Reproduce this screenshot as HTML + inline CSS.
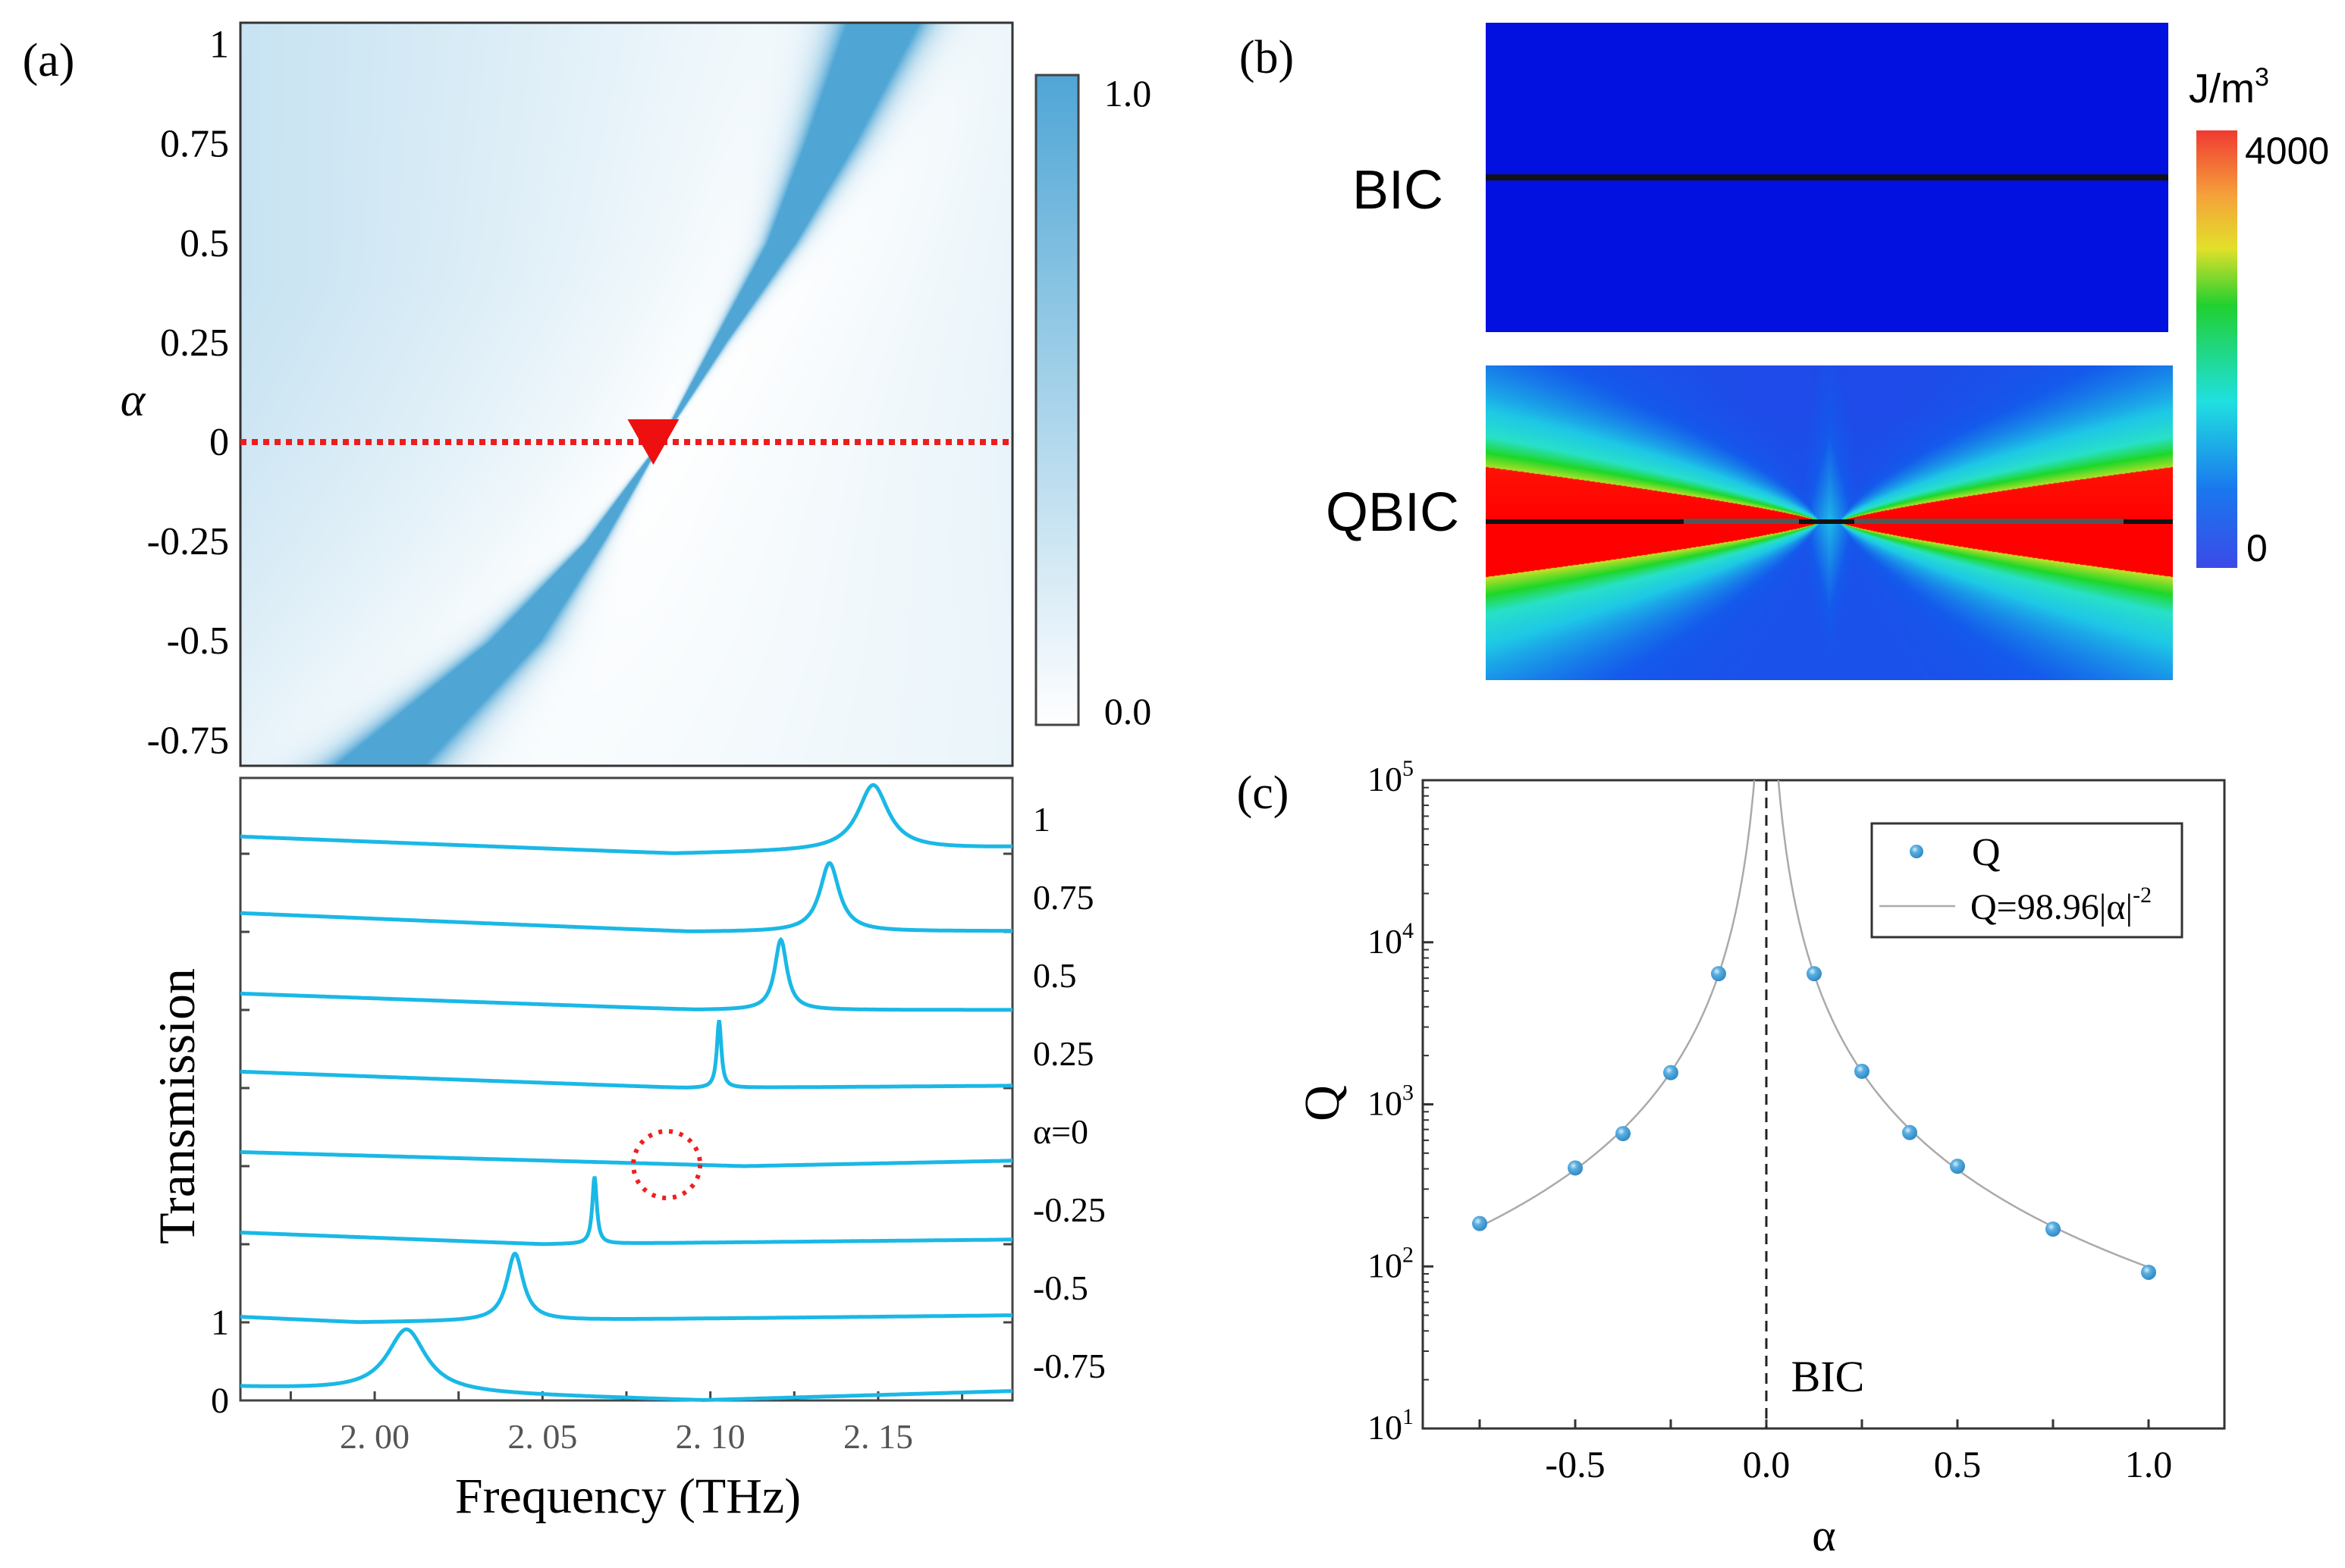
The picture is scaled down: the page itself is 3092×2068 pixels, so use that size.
<!DOCTYPE html>
<html><head><meta charset="utf-8">
<style>
html,body{margin:0;padding:0;background:#fff;}
#root{position:relative;width:3092px;height:2068px;overflow:hidden;background:#fff;}
canvas{position:absolute;}
svg{position:absolute;left:0;top:0;}
.serif{font-family:"Liberation Serif",serif;}
.sans{font-family:"Liberation Sans",sans-serif;}
</style></head>
<body>
<div id="root">
<canvas id="heat" width="1018" height="980" style="left:317px;top:30px;width:1018px;height:980px"></canvas>
<canvas id="bic" width="900" height="408" style="left:1959px;top:30px;width:900px;height:408px"></canvas>
<canvas id="qbic" width="906" height="415" style="left:1959px;top:482px;width:906px;height:415px"></canvas>
<svg id="svg" width="3092" height="2068" viewBox="0 0 3092 2068" xmlns="http://www.w3.org/2000/svg">
<defs>
<linearGradient id="cbA" x1="0" y1="0" x2="0" y2="1">
<stop offset="0" stop-color="#4fa6d5"/><stop offset="1" stop-color="#ffffff"/></linearGradient>
<linearGradient id="cbB" x1="0" y1="0" x2="0" y2="1">
<stop offset="0" stop-color="#f03a32"/><stop offset="0.15" stop-color="#f5a23a"/><stop offset="0.27" stop-color="#e2e02a"/><stop offset="0.4" stop-color="#20d030"/><stop offset="0.62" stop-color="#20e0e0"/><stop offset="0.82" stop-color="#1a78ee"/><stop offset="1" stop-color="#3a4ae8"/></linearGradient>
<radialGradient id="ball" cx="0.38" cy="0.35" r="0.7">
<stop offset="0" stop-color="#d8eefa"/><stop offset="0.35" stop-color="#5aaee0"/><stop offset="1" stop-color="#2a86c2"/></radialGradient>
<clipPath id="clipC"><rect x="1876" y="1029" width="1057" height="855"/></clipPath>
</defs>

<text class="serif" x="64" y="100" font-size="62" text-anchor="middle">(a)</text>
<text class="serif" x="1670" y="96" font-size="62" text-anchor="middle">(b)</text>
<text class="serif" x="1665" y="1066" font-size="62" text-anchor="middle">(c)</text>

<rect x="317" y="30" width="1018" height="980" fill="none" stroke="#333" stroke-width="3"/>
<g id="heatTicks"></g>
<text class="serif" x="175" y="548" font-size="62" font-style="italic" text-anchor="middle">α</text>
<line id="redLine" x1="317" x2="1337" stroke="#ee1c1c" stroke-width="8" stroke-dasharray="8,7"/>
<polygon id="redTri" fill="#ee1010"/>
<rect x="1366" y="99" width="56" height="857" fill="url(#cbA)" stroke="#444" stroke-width="3"/>
<text class="serif" x="1487" y="140" font-size="50" text-anchor="middle">1.0</text>
<text class="serif" x="1487" y="955" font-size="50" text-anchor="middle">0.0</text>

<rect x="317" y="1026" width="1018" height="821" fill="none" stroke="#444" stroke-width="3"/>
<g id="transTicks"></g>
<g id="transCurves"></g>
<circle id="redCircle" r="44" fill="none" stroke="#ee2020" stroke-width="6" stroke-dasharray="5,9"/>
<text class="serif" x="0" y="0" font-size="68" text-anchor="middle" transform="translate(256,1459) rotate(-90)">Transmission</text>
<text class="serif" x="828" y="1995" font-size="66" text-anchor="middle">Frequency (THz)</text>

<text class="sans" x="1843" y="275" font-size="72" text-anchor="middle">BIC</text>
<text class="sans" x="1836" y="700" font-size="72" text-anchor="middle">QBIC</text>
<line x1="1959" y1="234" x2="2859" y2="234" stroke="#111" stroke-width="8"/>
<line x1="1959" y1="688" x2="2865" y2="688" stroke="#111" stroke-width="6"/>
<rect x="2220" y="684" width="152" height="7" fill="#555"/>
<rect x="2445" y="684" width="355" height="7" fill="#555"/>
<rect x="2896" y="172" width="54" height="577" fill="url(#cbB)"/>
<text class="sans" x="2886" y="135" font-size="54">J/m<tspan font-size="34" dy="-22">3</tspan></text>
<text class="sans" x="2960" y="216" font-size="50">4000</text>
<text class="sans" x="2962" y="740" font-size="50">0</text>

<rect x="1876" y="1029" width="1057" height="855" fill="none" stroke="#333" stroke-width="3"/>
<g id="cTicks"></g>
<line id="bicLine" stroke="#222" stroke-width="3" stroke-dasharray="14,9"/>
<path id="fitCurve" fill="none" stroke="#aaa" stroke-width="2.5" clip-path="url(#clipC)"/>
<g id="qPoints"></g>
<text class="serif" x="2410" y="1835" font-size="58" text-anchor="middle">BIC</text>
<text class="serif" x="0" y="0" font-size="66" text-anchor="middle" transform="translate(1765,1455) rotate(-90)">Q</text>
<text class="serif" x="2405" y="2045" font-size="60" text-anchor="middle">α</text>
<g>
<rect x="2468" y="1086" width="409" height="150" fill="#fff" stroke="#333" stroke-width="3"/>
<circle cx="2527" cy="1123" r="9" fill="url(#ball)"/>
<text class="serif" x="2600" y="1141" font-size="52">Q</text>
<line x1="2478" y1="1195" x2="2578" y2="1195" stroke="#aaa" stroke-width="2.5"/>
<text class="serif" x="2598" y="1212" font-size="48">Q=98.96|α|<tspan font-size="30" dy="-22">-2</tspan></text>
</g>
</svg>
</div>
<script>
// ---------- data: panel (a) ----------
const alphaLevels = [-0.75, -0.5, -0.25, 0, 0.25, 0.5, 0.75, 1];
const alphaLabels = ["-0.75", "-0.5", "-0.25", "0", "0.25", "0.5", "0.75", "1"];
const rightLabels = ["-0.75", "-0.5", "-0.25", "α=0", "0.25", "0.5", "0.75", "1"];
const peakFreq = [2.0095, 2.0418, 2.0655, 2.085, 2.1026, 2.121, 2.1355, 2.1485];
const bandHW = [0.013, 0.008, 0.0028, 0.0002, 0.002, 0.0045, 0.008, 0.011];
const tLeft = [0.17, 0.07, 0.15, 0.18, 0.21, 0.21, 0.24, 0.22];
const tDipF = [2.098, 1.995, 2.05, 2.11, 2.093, 2.096, 2.094, 2.089];
const tRight = [0.12, 0.09, 0.06, 0.07, 0.03, 0.0, 0.01, 0.08];
const tPeak = [0.91, 0.88, 0.87, 0, 0.87, 0.9, 0.88, 0.88];
const lineHW = [0.007, 0.003, 0.0008, 0, 0.0008, 0.0022, 0.0035, 0.0055];
const freqTicks = [2.00, 2.05, 2.10, 2.15];
const freqTickLabels = ["2. 00", "2. 05", "2. 10", "2. 15"];
// ---------- data: panel (c) ----------
const qAlpha = [-0.75, -0.5, -0.375, -0.25, -0.125, 0.125, 0.25, 0.375, 0.5, 0.75, 1.0];
const qValues = [184, 405, 660, 1570, 6400, 6400, 1600, 670, 415, 170, 92];
const fitCoef = 98.96;
const cXTicks = [-0.5, 0, 0.5, 1.0];
const cXTickLabels = ["-0.5", "0.0", "0.5", "1.0"];
const cYExp = [1, 2, 3, 4, 5];

const NS = "http://www.w3.org/2000/svg";
function mk(tag, attrs, parent) {
  const e = document.createElementNS(NS, tag);
  for (const k in attrs) e.setAttribute(k, attrs[k]);
  parent.appendChild(e);
  return e;
}
const fx = f => 317 + (f - 1.96) / (2.19 - 1.96) * 1018;
const ay = a => 583 - a * 524.4;
const baseY = k => 1847 - 103 * k;
const TS = 103;

const ht = document.getElementById('heatTicks');
alphaLevels.forEach((a, i) => {
  const t = mk('text', {x: 302, y: ay(a) + 17, 'font-size': 52, 'text-anchor': 'end', 'class': 'serif'}, ht);
  t.textContent = alphaLabels[i];
  
  
});
const rl = document.getElementById('redLine');
rl.setAttribute('y1', ay(0)); rl.setAttribute('y2', ay(0));
const tri = document.getElementById('redTri');
const tx = fx(2.083);
tri.setAttribute('points', `${tx-34},${ay(0)-30} ${tx+34},${ay(0)-30} ${tx},${ay(0)+30}`);

function interp(xs, ys, x) {
  if (x <= xs[0]) return ys[0] + (ys[1]-ys[0])/(xs[1]-xs[0])*(x-xs[0]);
  for (let i = 0; i < xs.length - 1; i++) {
    if (x <= xs[i+1]) return ys[i] + (ys[i+1]-ys[i]) * (x - xs[i]) / (xs[i+1]-xs[i]);
  }
  const n = xs.length;
  return ys[n-1] + (ys[n-1]-ys[n-2])/(xs[n-1]-xs[n-2])*(x-xs[n-1]);
}
(function(){
  const cv = document.getElementById('heat'), ctx = cv.getContext('2d');
  const W = cv.width, H = cv.height, img = ctx.createImageData(W, H), d = img.data;
  for (let py = 0; py < H; py++) {
    const a = (583 - (py + 30)) / 524.4;
    const c = interp(alphaLevels, peakFreq, a);
    const hw = Math.max(0.0002, interp(alphaLevels, bandHW, a));
    for (let px = 0; px < W; px++) {
      const f = 1.96 + px / W * 0.23;
      const u = (f - c) / hw;
      let band = 1.7 / (1 + u*u*u*u);
      let bg;
      if (f < c) bg = 0.36 * Math.pow(Math.min(1, (c - f - hw) / (c - 1.96 + 0.02)), 0.8) * (0.6 + 0.4*Math.min(1,(a+0.8)/1.2));
      else bg = 0.13 * Math.max(0, (f - c - hw) / (2.19 - c + 0.001));
      if (!(bg > 0)) bg = 0;
      let v = Math.min(1, band + bg);
      const i = (py * W + px) * 4;
      d[i] = 255 + (79 - 255) * v; d[i+1] = 255 + (166 - 255) * v; d[i+2] = 255 + (213 - 255) * v; d[i+3] = 255;
    }
  }
  ctx.putImageData(img, 0, 0);
})();

const tt = document.getElementById('transTicks');
for (let k = 0; k < 8; k++) {
  mk('line', {x1: 317, x2: 329, y1: baseY(k), y2: baseY(k), stroke: '#444', 'stroke-width': 3}, tt);
  mk('line', {x1: 1323, x2: 1335, y1: baseY(k), y2: baseY(k), stroke: '#444', 'stroke-width': 3}, tt);
  const t = mk('text', {x: 1362, y: baseY(k) - 30, 'font-size': 46, 'class': 'serif'}, tt);
  t.textContent = rightLabels[k];
  
  
}
for (let f = 1.975; f < 2.19; f += 0.025) {
  mk('line', {x1: fx(f), x2: fx(f), y1: 1847, y2: 1835, stroke: '#444', 'stroke-width': 3}, tt);
}
freqTicks.forEach((f, i) => {
  const t = mk('text', {x: fx(f), y: 1910, 'font-size': 46, 'text-anchor': 'middle', 'class': 'serif', fill: '#555'}, tt);
  t.textContent = freqTickLabels[i];
  
  
});
[["0", 0], ["1", 1]].forEach(p => {
  const t = mk('text', {x: 302, y: 1847 - p[1]*TS + 16, 'font-size': 48, 'text-anchor': 'end', 'class': 'serif'}, tt);
  t.textContent = p[0];
  
  
});

const tc = document.getElementById('transCurves');
alphaLevels.forEach((a, k) => {
  const bgAt = f => f < tDipF[k] ? tLeft[k] * (tDipF[k] - f) / (tDipF[k] - 1.96) : tRight[k] * (f - tDipF[k]) / (2.19 - tDipF[k]);
  let dstr = '';
  const N = 900;
  for (let j = 0; j <= N; j++) {
    const f = 1.96 + 0.23 * j / N;
    let T = bgAt(f);
    if (tPeak[k] > 0) {
      const u = (f - peakFreq[k]) / lineHW[k];
      T += (tPeak[k] - bgAt(peakFreq[k])) / (1 + u*u);
    }
    dstr += (j ? 'L' : 'M') + fx(f).toFixed(1) + ',' + (baseY(k) - T * TS).toFixed(1);
  }
  const p = mk('path', {d: dstr, fill: 'none', stroke: '#1ab8e6', 'stroke-width': 5}, tc);
  
  
});
const rc = document.getElementById('redCircle');
rc.setAttribute('cx', fx(2.087)); rc.setAttribute('cy', baseY(3) - 2);

(function(){
  const cv = document.getElementById('bic'), ctx = cv.getContext('2d');
  ctx.fillStyle = '#0210e0'; ctx.fillRect(0, 0, cv.width, cv.height);
})();
function jet(t) {
  const st = [[0,[40,60,230]],[0.2,[20,90,235]],[0.38,[30,200,230]],[0.5,[40,225,200]],[0.6,[30,215,40]],[0.72,[200,225,40]],[0.82,[245,170,50]],[1,[255,0,0]]];
  for (let i = 0; i < st.length - 1; i++) {
    if (t <= st[i+1][0]) {
      const r = (t - st[i][0]) / (st[i+1][0] - st[i][0]);
      return st[i][1].map((v, j) => v + (st[i+1][1][j] - v) * r);
    }
  }
  return st[st.length-1][1];
}
(function(){
  const cv = document.getElementById('qbic'), ctx = cv.getContext('2d');
  const W = cv.width, H = cv.height, img = ctx.createImageData(W, H), d = img.data;
  const cx = 453, cy = 206;
  for (let py = 0; py < H; py++) {
    for (let px = 0; px < W; px++) {
      const u = Math.abs(px - cx) / 453;
      const dy = py - cy;
      const h = 72 * Math.pow(Math.max(0, u - 0.03) / 0.97, 0.8) + 0.5;
      const dd = Math.abs(dy) / h;
      let t;
      if (dd < 1) t = 1;
      else t = 0.14 + 0.58 * Math.exp(-(dd - 1) * 0.7);
      if (dy < 0) t -= 0.04 * Math.min(1, -dy / 150);
      if (u < 0.15 && dd >= 1) t = Math.max(t, 0.36 * (1 - u / 0.15) * Math.exp(-Math.abs(dy) / 200));
      const c = jet(Math.max(0, Math.min(1, t)));
      const i = (py * W + px) * 4;
      d[i] = c[0]; d[i+1] = c[1]; d[i+2] = c[2]; d[i+3] = 255;
    }
  }
  ctx.putImageData(img, 0, 0);
})();

const cx_ = a => 2329 + a * 504;
const cy_ = q => 1884 - (Math.log10(q) - 1) * 213.75;
const ct = document.getElementById('cTicks');
for (let a = -0.75; a <= 1.001; a += 0.25) {
  mk('line', {x1: cx_(a), x2: cx_(a), y1: 1884, y2: 1872, stroke: '#333', 'stroke-width': 3}, ct);
}
cXTicks.forEach((a, i) => {
  const t = mk('text', {x: cx_(a), y: 1948, 'font-size': 50, 'text-anchor': 'middle', 'class': 'serif'}, ct);
  t.textContent = cXTickLabels[i];
  
  
});
cYExp.forEach(e => {
  const y = cy_(Math.pow(10, e));
  mk('line', {x1: 1876, x2: 1890, y1: y, y2: y, stroke: '#333', 'stroke-width': 3}, ct);
  const t = mk('text', {x: 1864, y: y + 14, 'font-size': 46, 'text-anchor': 'end', 'class': 'serif'}, ct);
  t.textContent = '10';
  const s = mk('tspan', {'font-size': 30, dy: -20}, t);
  s.textContent = e;
  
  
  if (e < 5) for (let m = 2; m <= 9; m++) {
    const ym = cy_(m * Math.pow(10, e));
    mk('line', {x1: 1876, x2: 1884, y1: ym, y2: ym, stroke: '#333', 'stroke-width': 2}, ct);
  }
});
const bl = document.getElementById('bicLine');
bl.setAttribute('x1', cx_(0)); bl.setAttribute('x2', cx_(0)); bl.setAttribute('y1', 1029); bl.setAttribute('y2', 1884);
let fd = '';
[[-0.75, -0.02], [0.02, 1.0]].forEach(r => {
  const N = 300;
  for (let j = 0; j <= N; j++) {
    const a = r[0] + (r[1] - r[0]) * j / N;
    const y = Math.max(900, cy_(fitCoef / (a * a)));
    fd += (j ? 'L' : 'M') + cx_(a).toFixed(1) + ',' + y.toFixed(1);
  }
});
document.getElementById('fitCurve').setAttribute('d', fd);
const qp = document.getElementById('qPoints');
qAlpha.forEach((a, i) => {
  const c = mk('circle', {cx: cx_(a), cy: cy_(qValues[i]), r: 10, fill: 'url(#ball)'}, qp);
  
  
});
</script>
</body></html>
